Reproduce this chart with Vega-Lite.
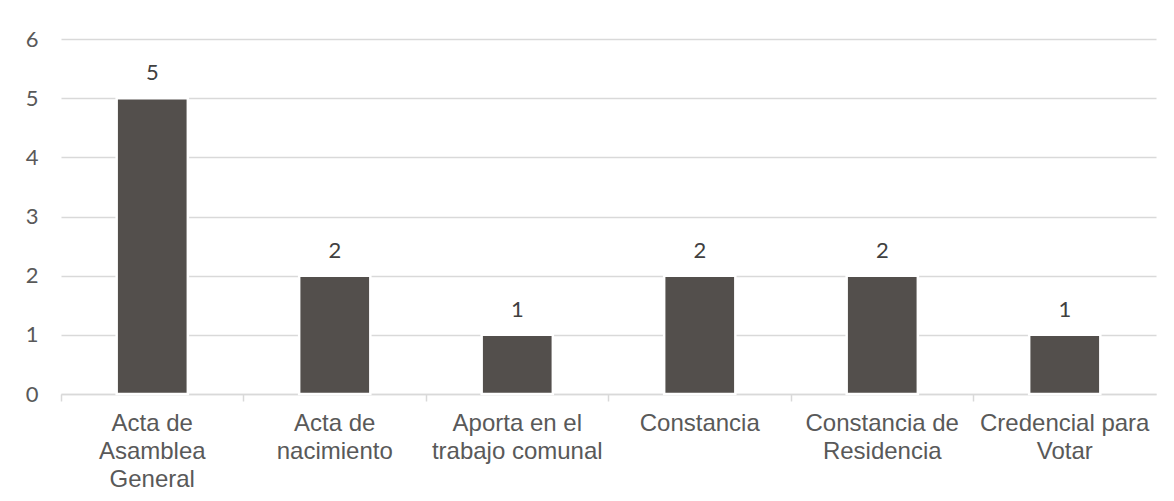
{
  "$schema": "https://vega.github.io/schema/vega-lite/v6.json",
  "width": 1095,
  "height": 355,
  "autosize": {"type": "none"},
  "padding": {"left": 61, "top": 39, "right": 18, "bottom": 107},
  "background": "white",
  "config": {"view": {"stroke": null}},
  "data": {
    "values": [
      {"categoria": "Acta de Asamblea General", "valor": 5},
      {"categoria": "Acta de nacimiento", "valor": 2},
      {"categoria": "Aporta en el trabajo comunal", "valor": 1},
      {"categoria": "Constancia", "valor": 2},
      {"categoria": "Constancia de Residencia", "valor": 2},
      {"categoria": "Credencial para Votar", "valor": 1}
    ]
  },
  "encoding": {
    "x": {
      "field": "categoria",
      "type": "nominal",
      "sort": null,
      "scale": {"paddingInner": 0.61, "paddingOuter": 0.305},
      "axis": {
        "title": null,
        "labelAngle": 0,
        "labelFont": "Liberation Sans",
        "labelFontSize": 24,
        "labelColor": "#595959",
        "labelLineHeight": 28,
        "labelPadding": 10,
        "labelBaseline": "top",
        "labelExpr": "{'Acta de Asamblea General': ['Acta de', 'Asamblea', 'General'], 'Acta de nacimiento': ['Acta de', 'nacimiento'], 'Aporta en el trabajo comunal': ['Aporta en el', 'trabajo comunal'], 'Constancia': 'Constancia', 'Constancia de Residencia': ['Constancia de', 'Residencia'], 'Credencial para Votar': ['Credencial para', 'Votar']}[datum.label]",
        "bandPosition": -0.782,
        "labelOverlap": false,
        "labelBound": false,
        "domainColor": "#D9D9D9",
        "domainWidth": 1.5,
        "tickColor": "#D9D9D9",
        "tickWidth": 1.5,
        "tickSize": 7,
        "grid": false
      }
    },
    "y": {
      "field": "valor",
      "type": "quantitative",
      "scale": {"domain": [0, 6], "nice": false},
      "axis": {
        "title": null,
        "values": [0, 1, 2, 3, 4, 5, 6],
        "domain": false,
        "ticks": false,
        "labelPadding": 23,
        "labelFont": "Lato",
        "labelFontSize": 22,
        "labelColor": "#595959",
        "gridColor": "#D9D9D9",
        "gridWidth": 1.5
      }
    }
  },
  "layer": [
    {
      "mark": {"type": "bar", "color": "#534F4C", "stroke": "white", "strokeWidth": 2.5}
    },
    {
      "mark": {
        "type": "text",
        "font": "Lato",
        "fontSize": 22,
        "color": "#404040",
        "baseline": "alphabetic",
        "dy": -18
      },
      "encoding": {"text": {"field": "valor", "type": "quantitative"}}
    }
  ]
}
